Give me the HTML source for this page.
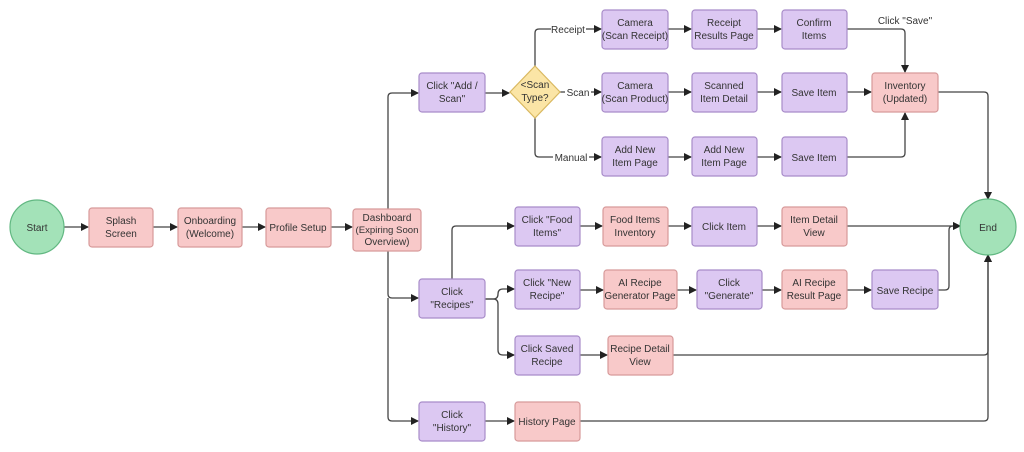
<!DOCTYPE html>
<html><head><meta charset="utf-8"><style>
html,body{margin:0;padding:0;background:#fff;}
svg{display:block;}
text{font-family:"Liberation Sans",sans-serif;font-size:10px;fill:#333;text-anchor:middle;}
.p{fill:#f8c9c9;stroke:#d79a9a;stroke-width:1.2;}
.v{fill:#dcc8f2;stroke:#a88cc9;stroke-width:1.2;}
.l{fill:none;stroke:#444;stroke-width:1.3;}
</style></head><body>
<svg width="1024" height="452" viewBox="0 0 1024 452" xmlns="http://www.w3.org/2000/svg">
<defs><marker id="a" markerWidth="8" markerHeight="8" refX="7" refY="4" orient="auto" markerUnits="userSpaceOnUse"><path d="M0,0 L8,4 L0,8 z" fill="#222"/></marker></defs>
<g class="l">
<path d="M535,66 V33 Q535,29 539,29 H551"/>
<path d="M560,92 H565"/>
<path d="M535,118 V153 Q535,157 539,157 H553"/>
</g>
<g class="l" marker-end="url(#a)">
<path d="M64,227 H88"/><path d="M153,227 H177"/><path d="M242,227 H265"/><path d="M331,227 H352"/>
<path d="M388,209 V97 Q388,93 392,93 H418"/>
<path d="M388,251 V294 Q388,298 392,298 H418"/>
<path d="M388,298 V417 Q388,421 392,421 H418"/>
<path d="M485,93 H509"/>
<path d="M586,29 H601"/>
<path d="M591,92 H601"/>
<path d="M589,157 H601"/>
<path d="M668,29 H691"/><path d="M757,29 H781"/>
<path d="M668,92 H691"/><path d="M757,92 H781"/><path d="M847,92 H871"/>
<path d="M668,157 H691"/><path d="M757,157 H781"/>
<path d="M847,29 H901 Q905,29 905,33 V72"/>
<path d="M847,157 H901 Q905,157 905,153 V113"/>
<path d="M938,92 H984 Q988,92 988,96 V199"/>
<path d="M452,279 V230 Q452,226 456,226 H514"/>
<path d="M580,226 H602"/><path d="M668,226 H691"/><path d="M757,226 H781"/>
<path d="M847,226 H960"/>
<path d="M938,290 H945 Q949,290 949,286 V230 Q949,226 953,226 H960"/>
<path d="M485,299 H493 Q498,299 498,294 Q498,289 503,289 H514"/>
<path d="M485,299 H493 Q498,299 498,304 V350 Q498,355 503,355 H514"/>
<path d="M580,290 H603"/><path d="M677,290 H696"/><path d="M762,290 H781"/><path d="M847,290 H871"/>
<path d="M580,355 H607"/>
<path d="M673,355 H984 Q988,355 988,351 V255"/>
<path d="M485,421 H514"/>
<path d="M580,421 H984 Q988,421 988,417 V255"/>
</g>
<circle cx="37" cy="227" r="27" fill="#a3e2b8" stroke="#62b882" stroke-width="1.2"/><text x="37" y="231">Start</text>
<circle cx="988" cy="227" r="28" fill="#a3e2b8" stroke="#62b882" stroke-width="1.2"/><text x="988" y="231">End</text>
<polygon points="535,66 560,92 535,118 510,92" fill="#fbe5a6" stroke="#d9b860" stroke-width="1.2"/>
<text x="535" y="88">&lt;Scan</text><text x="535" y="101">Type?</text>
<g>
<rect class="p" x="89" y="208" width="64" height="39" rx="3"/><text x="121" y="224">Splash</text><text x="121" y="237">Screen</text>
<rect class="p" x="178" y="208" width="64" height="39" rx="3"/><text x="210" y="224">Onboarding</text><text x="210" y="237">(Welcome)</text>
<rect class="p" x="266" y="208" width="65" height="39" rx="3"/><text x="298" y="231">Profile Setup</text>
<rect class="p" x="353" y="209" width="68" height="42" rx="3"/><text x="387" y="221">Dashboard</text><text x="387" y="233" style="font-size:9.6px">(Expiring Soon</text><text x="387" y="245">Overview)</text>
<rect class="v" x="419" y="73" width="66" height="39" rx="3"/><text x="452" y="89">Click "Add /</text><text x="452" y="102">Scan"</text>
<rect class="v" x="602" y="10" width="66" height="39" rx="3"/><text x="635" y="26">Camera</text><text x="635" y="39">(Scan Receipt)</text>
<rect class="v" x="692" y="10" width="65" height="39" rx="3"/><text x="724" y="26">Receipt</text><text x="724" y="39">Results Page</text>
<rect class="v" x="782" y="10" width="65" height="39" rx="3"/><text x="814" y="26">Confirm</text><text x="814" y="39">Items</text>
<rect class="v" x="602" y="73" width="66" height="39" rx="3"/><text x="635" y="89">Camera</text><text x="635" y="102">(Scan Product)</text>
<rect class="v" x="692" y="73" width="65" height="39" rx="3"/><text x="724" y="89">Scanned</text><text x="724" y="102">Item Detail</text>
<rect class="v" x="782" y="73" width="65" height="39" rx="3"/><text x="814" y="96">Save Item</text>
<rect class="p" x="872" y="73" width="66" height="39" rx="3"/><text x="905" y="89">Inventory</text><text x="905" y="102">(Updated)</text>
<rect class="v" x="602" y="137" width="66" height="39" rx="3"/><text x="635" y="153">Add New</text><text x="635" y="166">Item Page</text>
<rect class="v" x="692" y="137" width="65" height="39" rx="3"/><text x="724" y="153">Add New</text><text x="724" y="166">Item Page</text>
<rect class="v" x="782" y="137" width="65" height="39" rx="3"/><text x="814" y="161">Save Item</text>
<rect class="v" x="515" y="207" width="65" height="39" rx="3"/><text x="547" y="223">Click "Food</text><text x="547" y="236">Items"</text>
<rect class="p" x="603" y="207" width="65" height="39" rx="3"/><text x="635" y="223">Food Items</text><text x="635" y="236">Inventory</text>
<rect class="v" x="692" y="207" width="65" height="39" rx="3"/><text x="724" y="230">Click Item</text>
<rect class="p" x="782" y="207" width="65" height="39" rx="3"/><text x="814" y="223">Item Detail</text><text x="814" y="236">View</text>
<rect class="v" x="419" y="279" width="66" height="39" rx="3"/><text x="452" y="295">Click</text><text x="452" y="308">"Recipes"</text>
<rect class="v" x="515" y="270" width="65" height="39" rx="3"/><text x="547" y="286">Click "New</text><text x="547" y="299">Recipe"</text>
<rect class="p" x="604" y="270" width="73" height="39" rx="3"/><text x="640" y="286">AI Recipe</text><text x="640" y="299">Generator Page</text>
<rect class="v" x="697" y="270" width="65" height="39" rx="3"/><text x="729" y="286">Click</text><text x="729" y="299">"Generate"</text>
<rect class="p" x="782" y="270" width="65" height="39" rx="3"/><text x="814" y="286">AI Recipe</text><text x="814" y="299">Result Page</text>
<rect class="v" x="872" y="270" width="66" height="39" rx="3"/><text x="905" y="294">Save Recipe</text>
<rect class="v" x="515" y="336" width="65" height="39" rx="3"/><text x="547" y="352">Click Saved</text><text x="547" y="365">Recipe</text>
<rect class="p" x="608" y="336" width="65" height="39" rx="3"/><text x="640" y="352">Recipe Detail</text><text x="640" y="365">View</text>
<rect class="v" x="419" y="402" width="66" height="39" rx="3"/><text x="452" y="418">Click</text><text x="452" y="431">"History"</text>
<rect class="p" x="515" y="402" width="65" height="39" rx="3"/><text x="547" y="425">History Page</text>
</g>
<text x="568" y="33" style="font-size:10px">Receipt</text>
<text x="578" y="96" style="font-size:10px">Scan</text>
<text x="571" y="161" style="font-size:10px">Manual</text>
<text x="905" y="24" style="font-size:10px">Click "Save"</text>
</svg>
</body></html>
